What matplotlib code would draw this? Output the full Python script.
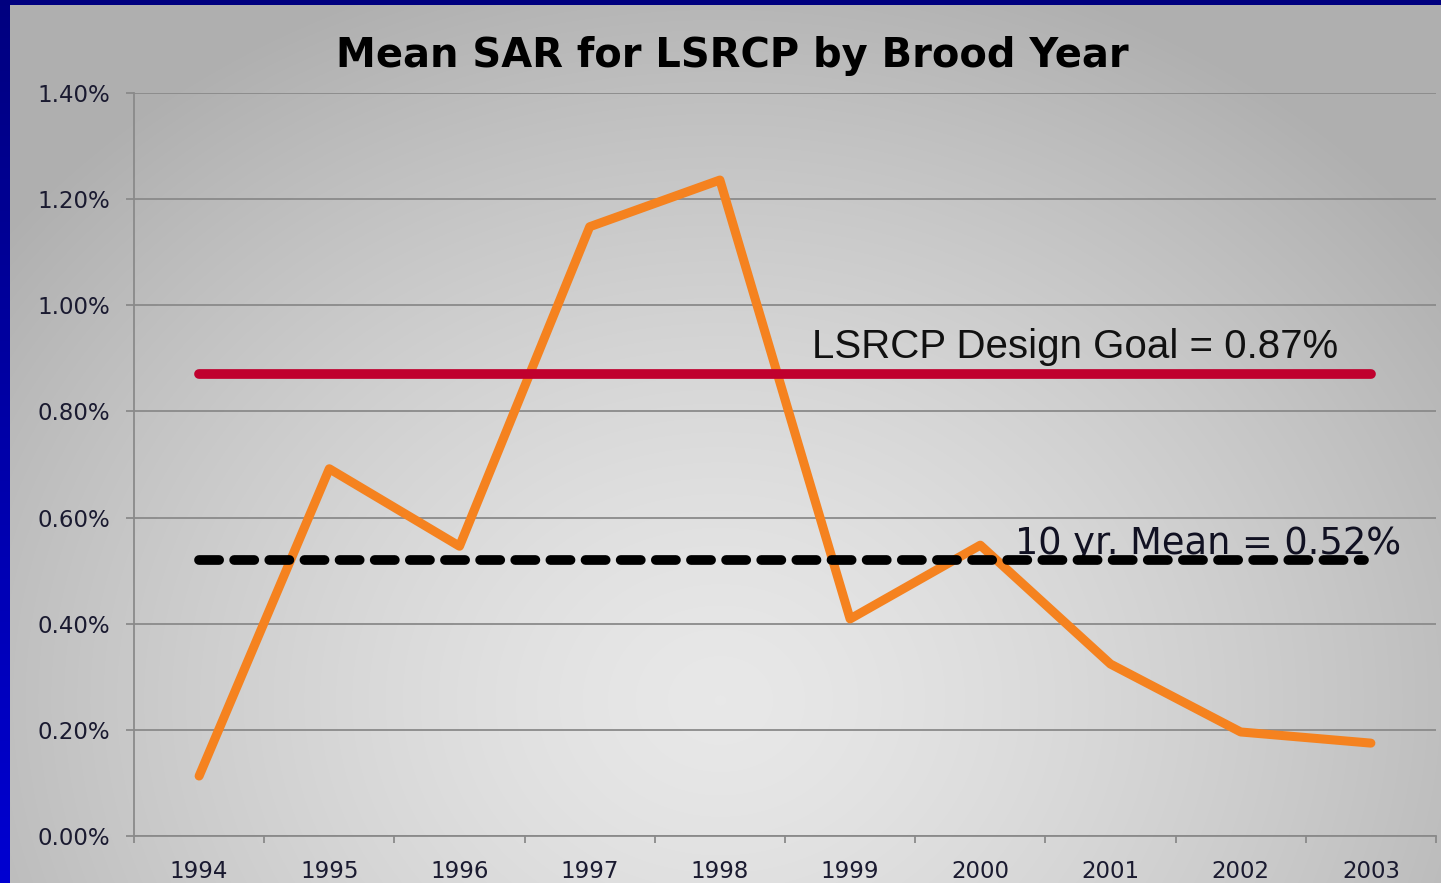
import numpy as np
import matplotlib
matplotlib.use("Agg")
import matplotlib.pyplot as plt

plt.rcParams['lines.scale_dashes'] = False

years = ["1994", "1995", "1996", "1997", "1998", "1999", "2000", "2001", "2002", "2003"]
sar = [0.113, 0.692, 0.546, 1.148, 1.236, 0.409, 0.548, 0.324, 0.196, 0.175]
design_goal = 0.87
ten_yr_mean = 0.52
title = "Mean SAR for LSRCP by Brood Year"
yticks = [0.0, 0.2, 0.4, 0.6, 0.8, 1.0, 1.2, 1.4]

W, H = 1441, 883
fig = plt.figure(figsize=(W / 100, H / 100), dpi=100)

# background: blue frame + radial grey gradient
bg = fig.add_axes([0, 0, 1, 1])
bg.set_axis_off()
yy, xx = np.mgrid[0:H, 0:W]
r = np.sqrt(((xx - 720) / 900.0) ** 2 + ((yy - 700) / 760.0) ** 2)
r = np.clip(r, 0, 1)
grey = 0.91 - 0.22 * r ** 1.4
img = np.dstack([grey, grey, grey])
blue_col = np.linspace(0.50, 0.82, H)[:, None]
img[:, :10, 0] = 0
img[:, :10, 1] = 0
img[:, :10, 2] = blue_col
img[:5, :, 0] = 0
img[:5, :, 1] = 0
img[:5, :, 2] = 0.50
bg.imshow(img, extent=[0, 1, 0, 1], aspect='auto', origin='upper')
bg.set_xlim(0, 1)
bg.set_ylim(0, 1)

ax = fig.add_axes([134 / W, 1 - 836 / H, (1436 - 134) / W, (836 - 93) / H])
ax.patch.set_alpha(0)
x = np.arange(len(years))

ax.set_xlim(-0.5, len(years) - 0.5)
ax.set_ylim(0, 1.4)
ax.set_yticks(yticks)
ax.set_yticklabels([f"{v:.2f}%" for v in yticks])
ax.grid(axis='y', color='#8a8a8a', linewidth=1.3)
ax.set_axisbelow(True)

ax.set_xticks(x)
ax.set_xticklabels(years)
ax.set_xticks(np.arange(-0.5, len(years), 1.0), minor=True)
ax.tick_params(axis='x', which='major', length=0, pad=17, labelsize=16.5, labelcolor='#1a1a30')
ax.tick_params(axis='x', which='minor', length=5, width=1.3, color='#8a8a8a', direction='out')
ax.tick_params(axis='y', length=6, width=1.3, color='#8a8a8a', pad=11, labelsize=16.5, labelcolor='#1a1a30')

for s in ['top', 'right']:
    ax.spines[s].set_visible(False)
for s in ['left', 'bottom']:
    ax.spines[s].set_color('#8a8a8a')
    ax.spines[s].set_linewidth(1.3)

ax.plot(x, sar, color='#F5821F', linewidth=6.5, solid_capstyle='round', solid_joinstyle='round', zorder=3)
ax.plot([x[0], x[-1]], [design_goal, design_goal], color='#C0002E', linewidth=7, solid_capstyle='round', zorder=4)
ax.plot([x[0], x[-1] - 0.05], [ten_yr_mean, ten_yr_mean], color='black', linewidth=7,
        dashes=(14.5, 10.8), dash_capstyle='round', zorder=4)

ax.text((812 - 134) / (1436 - 134), design_goal + 0.051, f"LSRCP Design Goal = {design_goal:.2f}%",
        transform=ax.get_yaxis_transform(), fontsize=29, family='Liberation Sans',
        color='#111111', ha='left', va='center')
ax.text((1015 - 134) / (1436 - 134), ten_yr_mean + 0.031, f"10 yr. Mean = {ten_yr_mean:.2f}%",
        transform=ax.get_yaxis_transform(), fontsize=26.5, family='DejaVu Sans',
        color='#111122', ha='left', va='center', zorder=2)

fig.text(732 / W, 1 - 56 / H, title, fontsize=28.8, fontweight='bold', family='DejaVu Sans',
         ha='center', va='center', color='black')

fig.savefig("out.png", dpi=100)
